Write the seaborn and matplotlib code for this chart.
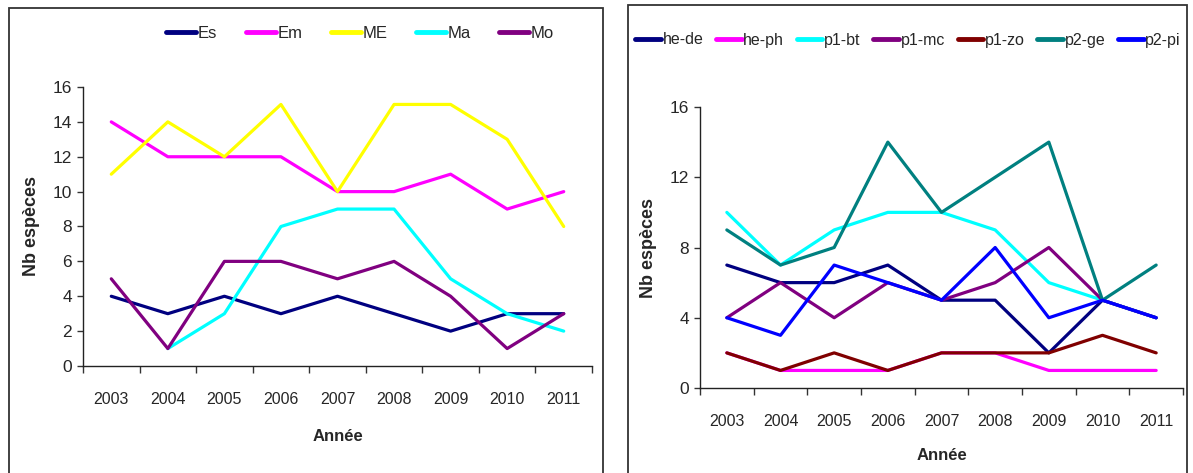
import numpy as np
import pandas as pd
import matplotlib
matplotlib.use("Agg")
import matplotlib.pyplot as plt
import seaborn as sns
from matplotlib.patches import Rectangle
from matplotlib.ticker import MultipleLocator, FixedLocator

# ----- data -----
annees = [2003, 2004, 2005, 2006, 2007, 2008, 2009, 2010, 2011]

# left panel
es = [4, 3, 4, 3, 4, 3, 2, 3, 3]
em = [14, 12, 12, 12, 10, 10, 11, 9, 10]
me = [11, 14, 12, 15, 10, 15, 15, 13, 8]
ma = [np.nan, 1, 3, 8, 9, 9, 5, 3, 2]
mo = [5, 1, 6, 6, 5, 6, 4, 1, 3]
left_names = ["Es", "Em", "ME", "Ma", "Mo"]
left_colors = ["#000080", "#FF00FF", "#FFFF00", "#00FFFF", "#800080"]

# right panel
he_de = [7, 6, 6, 7, 5, 5, 2, 5, 4]
he_ph = [2, 1, 1, 1, 2, 2, 1, 1, 1]
p1_bt = [10, 7, 9, 10, 10, 9, 6, 5, 4]
p1_mc = [4, 6, 4, 6, 5, 6, 8, 5, 4]
p1_zo = [2, 1, 2, 1, 2, 2, 2, 3, 2]
p2_ge = [9, 7, 8, 14, 10, 12, 14, 5, 7]
p2_pi = [4, 3, 7, 6, 5, 8, 4, 5, 4]
right_names = ["he-de", "he-ph", "p1-bt", "p1-mc", "p1-zo", "p2-ge", "p2-pi"]
right_colors = ["#000080", "#FF00FF", "#00FFFF", "#800080", "#800000", "#008080", "#0000FF"]


def to_long(series, names):
    rows = []
    for name, vals in zip(names, series):
        for a, v in zip(annees, vals):
            rows.append({"Année": a, "Nb": v, "serie": name})
    return pd.DataFrame(rows).dropna()


df_left = to_long([es, em, me, ma, mo], left_names)
df_right = to_long([he_de, he_ph, p1_bt, p1_mc, p1_zo, p2_ge, p2_pi], right_names)

sns.set_style("white")
plt.rcParams["font.family"] = ["Liberation Sans", "DejaVu Sans"]

W, H = 1193, 473
fig = plt.figure(figsize=(W / 100, H / 100), dpi=100)


def px_box(x0, x1, ytop, ybot):
    return [x0 / W, 1 - ybot / H, (x1 - x0) / W, (ybot - ytop) / H]


# panel frames
fig.patches.append(Rectangle((9 / W, -0.05), (603 - 9) / W, 1.05 - 8 / H,
                             transform=fig.transFigure, fill=False,
                             edgecolor="#333333", linewidth=1.3))
fig.patches.append(Rectangle((628 / W, -0.05), (1187 - 628) / W, 1.05 - 5 / H,
                             transform=fig.transFigure, fill=False,
                             edgecolor="#333333", linewidth=1.3))

ax1 = fig.add_axes(px_box(83, 592, 87, 366))
ax2 = fig.add_axes(px_box(700, 1183, 107, 388))

FS = 11.5


def style_axis(ax, df, names, colors, ystep, ylab_x, xlab_y, leg_x, leg_y, ncol,
               colsp, leg_fs, hlen):
    sns.lineplot(data=df, x="Année", y="Nb", hue="serie", hue_order=names,
                 palette=colors, linewidth=2.3, ax=ax, legend=True)
    ax.set_xlim(annees[0] - 0.5, annees[-1] + 0.5)
    ax.set_ylim(0, 16)
    ax.yaxis.set_major_locator(MultipleLocator(ystep))
    ax.xaxis.set_major_locator(FixedLocator(annees))
    ax.xaxis.set_minor_locator(FixedLocator([a - 0.5 for a in annees] + [annees[-1] + 0.5]))
    ax.tick_params(axis="x", which="major", length=0, pad=19, labelsize=FS)
    ax.tick_params(axis="x", which="minor", length=5, width=1, color="#333333", direction="out")
    ax.tick_params(axis="y", which="major", length=4, width=1, color="#333333",
                   direction="out", pad=4, labelsize=FS + 1)
    ax.tick_params(bottom=True, left=True, which="both")
    for s in ["top", "right"]:
        ax.spines[s].set_visible(False)
    for s in ["left", "bottom"]:
        ax.spines[s].set_color("#222222")
        ax.spines[s].set_linewidth(1.0)
    ax.set_xlabel("Année", fontsize=12, fontweight="bold")
    ax.xaxis.set_label_coords(0.5, xlab_y)
    ax.set_ylabel("Nb espèces", fontsize=13, fontweight="bold")
    ax.yaxis.set_label_coords(ylab_x, 0.5)
    handles, labels = ax.get_legend_handles_labels()
    ax.get_legend().remove()
    leg = fig.legend(handles, labels, loc="center", bbox_to_anchor=(leg_x / W, 1 - leg_y / H),
                     ncol=ncol, frameon=False, fontsize=leg_fs, handlelength=hlen,
                     handletextpad=0.1, columnspacing=colsp, borderpad=0.1)
    for h in leg.get_lines():
        h.set_linewidth(3.5)


style_axis(ax1, df_left, left_names, left_colors, 2, -0.085, -0.225, 360, 33, 5,
           1.7, 12, 1.8)
style_axis(ax2, df_right, right_names, right_colors, 4, -0.09, -0.215, 908, 40, 7,
           0.8, 11.5, 1.6)

fig.savefig("out.png", dpi=100)
